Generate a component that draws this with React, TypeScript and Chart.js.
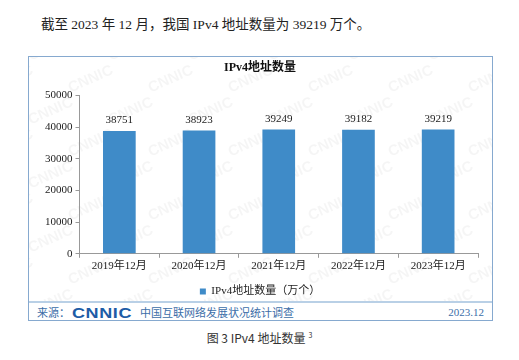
import React, { useEffect, useRef } from "react";
import { Chart, registerables } from "chart.js";

Chart.register(...registerables);

const categories = ["2019年12月", "2020年12月", "2021年12月", "2022年12月", "2023年12月"];
const values = [38751, 38923, 39249, 39182, 39219];
const yTicks = [0, 10000, 20000, 30000, 40000, 50000];
const seriesName = "IPv4地址数量（万个）";
const chartTitle = "IPv4地址数量";

const SERIF = "'Liberation Serif', 'Noto Sans CJK SC', serif";
const BLUE = "#3f8bc8";

const watermark = {
  id: "watermark",
  beforeDraw(chart: any) {
    const { ctx } = chart;
    ctx.save();
    ctx.fillStyle = "rgba(0,0,0,0.04)";
    ctx.font = "bold 15px 'Liberation Sans', sans-serif";
    for (let row = -1; row < 9; row++) {
      for (let col = -1; col < 8; col++) {
        const x = col * 80 + (row % 2) * 40;
        const y = row * 32;
        ctx.save();
        ctx.translate(x, y);
        ctx.rotate(-0.42);
        ctx.fillText("CNNIC", 0, 0);
        ctx.restore();
      }
    }
    ctx.restore();
  },
};

const valueLabels = {
  id: "valueLabels",
  afterDatasetsDraw(chart: any) {
    const { ctx } = chart;
    const meta = chart.getDatasetMeta(0);
    ctx.save();
    ctx.fillStyle = "#222";
    ctx.font = `11px ${SERIF}`;
    ctx.textAlign = "center";
    ctx.textBaseline = "bottom";
    meta.data.forEach((bar: any, i: number) => {
      ctx.fillText(String(chart.data.datasets[0].data[i]), bar.x, bar.y - 5);
    });
    ctx.restore();
  },
};

function BarChart() {
  const ref = useRef<HTMLCanvasElement>(null);
  useEffect(() => {
    if (!ref.current) return;
    const chart = new Chart(ref.current, {
      type: "bar",
      data: {
        labels: categories,
        datasets: [
          {
            label: seriesName,
            data: values,
            backgroundColor: BLUE,
            categoryPercentage: 0.82,
            barPercentage: 0.5,
          },
        ],
      },
      options: {
        animation: false,
        responsive: false,
        layout: { padding: { left: 13, right: 14, top: 2, bottom: 0 } },
        plugins: {
          title: {
            display: true,
            text: chartTitle,
            color: "#111",
            font: { family: SERIF, size: 12, weight: "bold" },
            padding: { top: 2, bottom: 20 },
          },
          legend: {
            position: "bottom",
            labels: {
              boxWidth: 6,
              boxHeight: 6,
              color: "#222",
              font: { family: SERIF, size: 11 },
              padding: 11,
            },
          },
          tooltip: { enabled: false },
        },
        scales: {
          x: {
            grid: { drawOnChartArea: false, drawTicks: true, tickLength: 4, color: "#999" },
            border: { color: "#999" },
            ticks: { color: "#222", font: { family: SERIF, size: 11 }, padding: 2 },
          },
          y: {
            min: 0,
            max: 50000,
            afterBuildTicks(scale: any) {
              scale.ticks = yTicks.map((v) => ({ value: v }));
            },
            grid: { drawOnChartArea: false, drawTicks: true, tickLength: 4, color: "#999" },
            border: { color: "#999" },
            ticks: {
              color: "#222",
              font: { family: SERIF, size: 11 },
              padding: 3,
              callback: (v: any) => String(v),
            },
          },
        },
      },
      plugins: [watermark, valueLabels],
    });
    return () => chart.destroy();
  }, []);
  return <canvas ref={ref} width={463} height={250} style={{ display: "block" }} />;
}

export default function App() {
  return (
    <div style={{ position: "relative", width: 519, height: 360, margin: -8, background: "#fff" }}>
      <div
        style={{
          position: "absolute",
          left: 41,
          top: 13,
          fontFamily: SERIF,
          fontSize: 13.5,
          color: "#222",
          whiteSpace: "nowrap",
        }}
      >
        截至 2023 年 12 月，我国 IPv4 地址数量为 39219 万个。
      </div>
      <div
        style={{
          position: "absolute",
          left: 28,
          top: 56,
          width: 463,
          height: 263,
          border: "1px solid #86a9cf",
          overflow: "hidden",
        }}
      >
        <BarChart />
        <div style={{ position: "absolute", left: 0, top: 244, width: 463, height: 19, background: "#fff" }} />
        <div style={{ position: "absolute", left: 0, top: 244, width: 463, height: 2, background: "#b9d0e6" }} />
        <div
          style={{
            position: "absolute",
            left: 8,
            top: 247,
            width: 447,
            height: 16,
            display: "flex",
            alignItems: "center",
            color: "#3c6ea8",
            fontFamily: SERIF,
            fontSize: 11,
            whiteSpace: "nowrap",
          }}
        >
          <span>来源：</span>
          <span
            style={{
              fontFamily: "'Liberation Sans', sans-serif",
              fontWeight: 900,
              fontSize: 15,
              color: "#1d5ca6",
              letterSpacing: 0.5,
              transform: "scaleX(1.2)",
              transformOrigin: "left center",
              display: "inline-block",
              marginLeft: 2,
              width: 58,
            }}
          >
            CNNIC
          </span>
          <span style={{ marginLeft: 10 }}>中国互联网络发展状况统计调查</span>
          <span style={{ marginLeft: "auto" }}>2023.12</span>
        </div>
      </div>
      <div
        style={{
          position: "absolute",
          left: 0,
          width: 519,
          top: 329,
          textAlign: "center",
          fontFamily: "'Noto Sans CJK SC', 'Liberation Sans', sans-serif",
          fontSize: 12,
          color: "#333",
        }}
      >
        图 3 IPv4 地址数量<sup style={{ fontSize: 7, marginLeft: 3 }}>3</sup>
      </div>
    </div>
  );
}
